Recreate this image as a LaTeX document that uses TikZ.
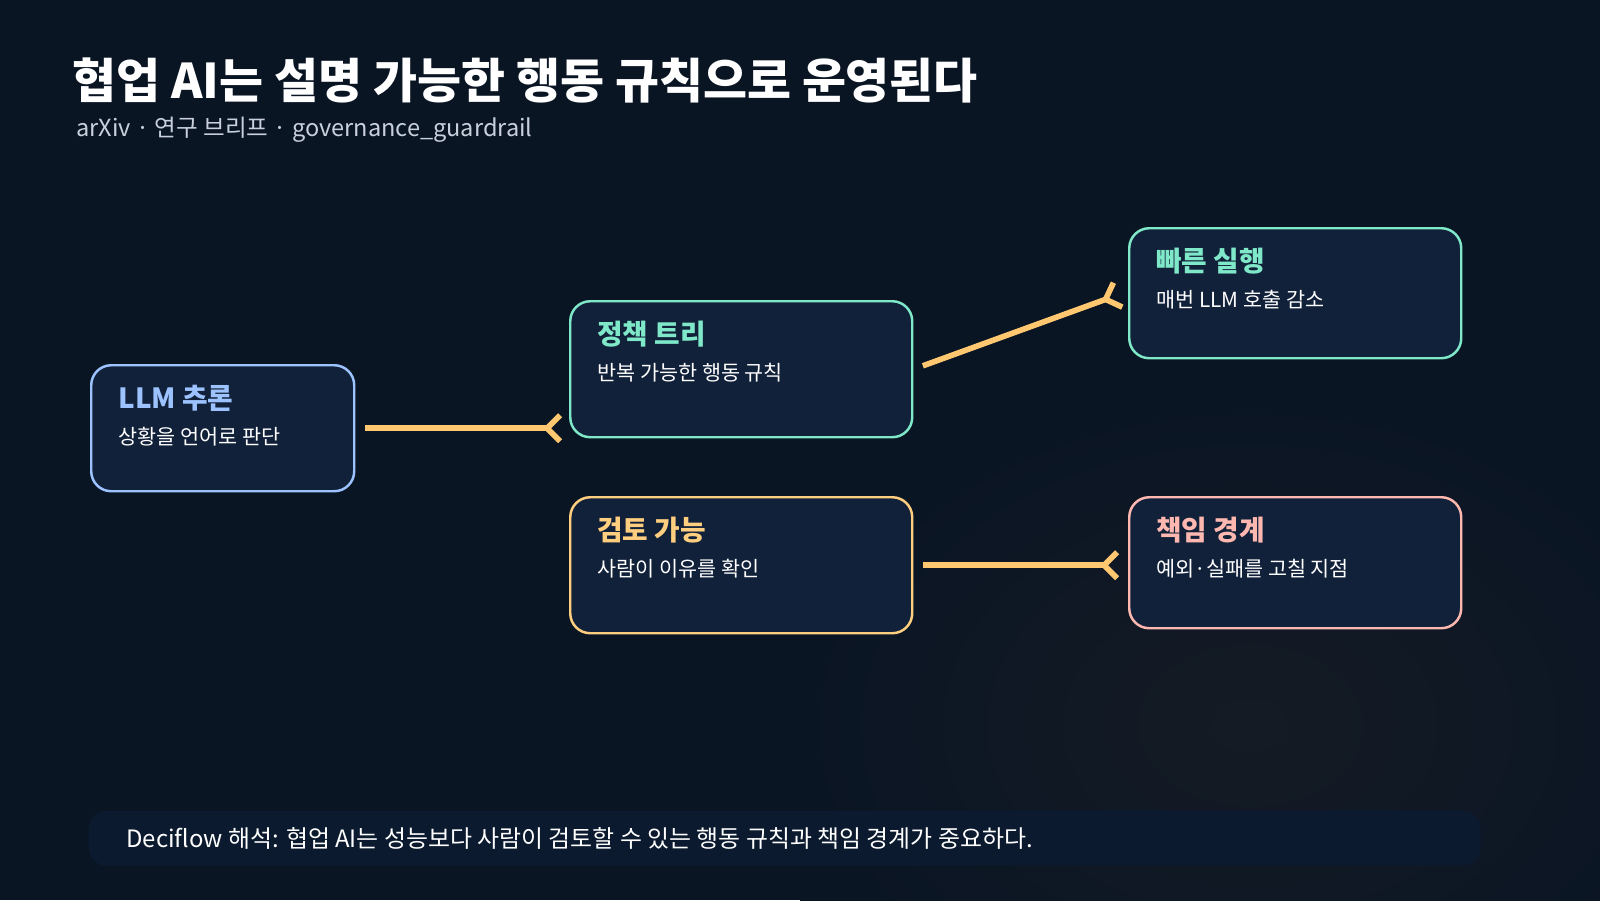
\documentclass[tikz,border=0pt]{standalone}
\usepackage{fontspec}
\setmainfont{Noto Sans CJK KR}
\usetikzlibrary{arrows.meta,positioning}
\definecolor{bgdark}{HTML}{0A1524}
\definecolor{bgglow}{HTML}{151B24}
\definecolor{boxfill}{HTML}{12213A}
\definecolor{barfill}{HTML}{0B1A2E}
\definecolor{llmblue}{HTML}{9CC3FF}
\definecolor{mint}{HTML}{7EE8C8}
\definecolor{amber}{HTML}{FFCF7F}
\definecolor{rose}{HTML}{FFB8B0}
\definecolor{wire}{HTML}{FFC870}
\definecolor{subgray}{HTML}{C8D0DC}
\tikzset{
  card/.style={draw=#1, line width=0.7pt, fill=boxfill, rounded corners=0.2cm, anchor=north west},
  cardtitle/.style={anchor=west, text=#1, font=\fontsize{7.9pt}{9pt}\selectfont\bfseries},
  cardbody/.style={anchor=west, text=white, font=\fontsize{5.9pt}{7pt}\selectfont},
  link/.style={draw=wire, line width=1.6pt, -{Straight Barb[reversed,length=1.3mm,width=2.6mm]}}
}
\begin{document}
\begin{tikzpicture}
\useasboundingbox (0,0) rectangle (16,9);
\fill[bgdark] (0,0) rectangle (16,9);
\shade[inner color=bgglow, outer color=bgdark] (8,-1.5) rectangle (17,5);
% title
\node[anchor=west, text=white, font=\fontsize{13.6pt}{15pt}\selectfont\bfseries] (title) at (0.6,8.2) {협업 AI는 설명 가능한 행동 규칙으로 운영된다};
\node[anchor=west, text=subgray, font=\fontsize{6.7pt}{8pt}\selectfont] (sub) at (0.64,7.7) {arXiv · 연구 브리프 · governance\_guardrail};
% cards
\node[card=llmblue, minimum width=2.63cm, minimum height=1.26cm] (llm) at (0.9,5.36) {};
\node[card=mint, minimum width=3.42cm, minimum height=1.36cm] (pol) at (5.69,6.0) {};
\node[card=mint, minimum width=3.32cm, minimum height=1.30cm] (fast) at (11.28,6.73) {};
\node[card=amber, minimum width=3.42cm, minimum height=1.36cm] (rev) at (5.69,4.04) {};
\node[card=rose, minimum width=3.32cm, minimum height=1.31cm] (resp) at (11.28,4.04) {};
% card texts
\foreach \n/\c/\t/\b in {llm/llmblue/LLM 추론/상황을 언어로 판단,
  pol/mint/정책 트리/반복 가능한 행동 규칙,
  fast/mint/빠른 실행/매번 LLM 호출 감소,
  rev/amber/검토 가능/사람이 이유를 확인,
  resp/rose/책임 경계/예외·실패를 고칠 지점}{
  \node[cardtitle=\c] (\n-t) at ([xshift=0.16cm,yshift=-0.34cm]\n.north west) {\t};
  \node[cardbody] (\n-b) at ([xshift=0.16cm,yshift=-0.73cm]\n.north west) {\b};
}
% connectors
\draw[link, shorten <=0.1cm, shorten >=0.06cm] (llm.east) -- (llm.east -| pol.west);
\draw[link, shorten <=0.1cm, shorten >=0.08cm] (pol.east) -- ([yshift=0.02cm]fast.west);
\draw[link, shorten <=0.1cm, shorten >=0.08cm] (rev.east) -- (rev.east -| resp.west);
% footer
\node[anchor=north west, fill=barfill, rounded corners=0.18cm, minimum width=13.92cm, minimum height=0.55cm] (bar) at (0.88,0.9) {};
\node[anchor=west, text=white, font=\fontsize{6.8pt}{8pt}\selectfont] (foot) at ([xshift=0.26cm]bar.west) {Deciflow 해석: 협업 AI는 성능보다 사람이 검토할 수 있는 행동 규칙과 책임 경계가 중요하다.};
\end{tikzpicture}
\end{document}
